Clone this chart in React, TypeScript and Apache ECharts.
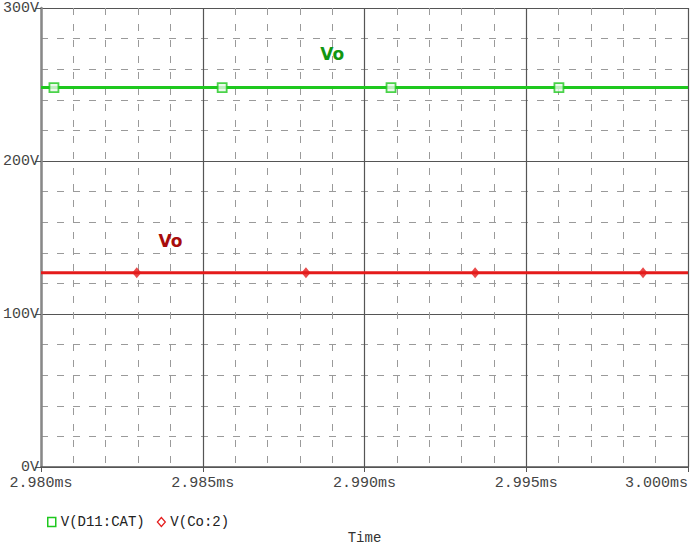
import React, { useEffect, useRef } from "react";
import * as echarts from "echarts";

// time in microseconds (2980 us = 2.980 ms)
const timeRange = [2980, 3000];
const voltRange = [0, 300];
const greenLevel = 248; // V(D11:CAT)
const redLevel = 127; // V(Co:2)
const greenMarkerTimes = [2980.4, 2985.6, 2990.82, 2996.01];
const redMarkerTimes = [2982.96, 2988.19, 2993.42, 2998.61];
const greenLabel = { text: "Vo", t: 2989.0, v: 270 };
const redLabel = { text: "Vo", t: 2984.0, v: 148 };
const seriesNames = ["V(D11:CAT)", "V(Co:2)"];

const GREEN = "#1ec81e";
const RED = "#e41b1b";
const FONT = "Liberation Mono";

export default function App() {
  const ref = useRef<HTMLDivElement>(null);
  useEffect(() => {
    const chart = echarts.init(ref.current!, null, { renderer: "svg" });
    const minorLine = { show: true, lineStyle: { color: "#9a9a9a", width: 1, type: [7, 9] } };
    chart.setOption({
      animation: false,
      backgroundColor: "#ffffff",
      grid: { left: 41, right: 4, top: 8, bottom: 79 },
      xAxis: {
        type: "value",
        min: timeRange[0],
        max: timeRange[1],
        interval: 5,
        name: "Time",
        nameLocation: "middle",
        nameGap: 64,
        nameTextStyle: { fontFamily: FONT, fontSize: 14, color: "#333" },
        axisLine: { show: true, lineStyle: { color: "#555", width: 1.5 } },
        axisTick: { show: true, length: 5, inside: false, lineStyle: { color: "#555" } },
        axisLabel: {
          formatter: (v: number) => (v / 1000).toFixed(3) + "ms",
          fontFamily: FONT,
          fontSize: 15,
          color: "#444",
          margin: 9,
          showMinLabel: true,
          showMaxLabel: true,
          alignMinLabel: "center",
          alignMaxLabel: "right",
        },
        splitLine: { show: true, lineStyle: { color: "#555", width: 1.2 } },
        minorTick: { show: true, splitNumber: 5, length: 0 },
        minorSplitLine: minorLine,
      },
      yAxis: {
        type: "value",
        min: voltRange[0],
        max: voltRange[1],
        interval: 100,
        axisLine: { show: true, lineStyle: { color: "#888", width: 2.5 } },
        axisTick: { show: true, length: 6, lineStyle: { color: "#555" } },
        axisLabel: {
          formatter: (v: number) => v + "V",
          fontFamily: FONT,
          fontSize: 15,
          color: "#444",
          margin: 2,
        },
        splitLine: { show: true, lineStyle: { color: "#555", width: 1.2 } },
        minorTick: { show: true, splitNumber: 5, length: 0 },
        minorSplitLine: minorLine,
      },
      legend: {
        left: 42,
        top: 510,
        itemWidth: 8,
        itemHeight: 9,
        itemGap: 12,
        textStyle: { fontFamily: FONT, fontSize: 14, color: "#222" },
        data: [
          { name: seriesNames[0], icon: "rect", itemStyle: { color: "#fff", borderColor: GREEN, borderWidth: 1.5 } },
          { name: seriesNames[1], icon: "diamond", itemStyle: { color: "#fff", borderColor: RED, borderWidth: 1.2 } },
        ],
      },
      series: [
        {
          name: seriesNames[0],
          type: "line",
          showSymbol: false,
          data: [[timeRange[0], greenLevel], [timeRange[1], greenLevel]],
          lineStyle: { color: GREEN, width: 3 },
          itemStyle: { color: GREEN },
          markPoint: {
            symbol: "circle",
            symbolSize: 0,
            label: {
              show: true,
              formatter: greenLabel.text,
              fontFamily: "DejaVu Sans",
              fontWeight: "bold",
              fontSize: 17,
              color: "#129612",
            },
            data: [{ coord: [greenLabel.t, greenLabel.v] }],
          },
          z: 3,
        },
        {
          name: seriesNames[0],
          type: "scatter",
          symbol: "rect",
          symbolSize: 9,
          data: greenMarkerTimes.map((t) => [t, greenLevel]),
          itemStyle: { color: "#e8f8e8", borderColor: GREEN, borderWidth: 1.8 },
          z: 4,
        },
        {
          name: seriesNames[1],
          type: "line",
          showSymbol: false,
          data: [[timeRange[0], redLevel], [timeRange[1], redLevel]],
          lineStyle: { color: RED, width: 3 },
          itemStyle: { color: RED },
          markPoint: {
            symbol: "circle",
            symbolSize: 0,
            label: {
              show: true,
              formatter: redLabel.text,
              fontFamily: "DejaVu Sans",
              fontWeight: "bold",
              fontSize: 17,
              color: "#a80c0c",
            },
            data: [{ coord: [redLabel.t, redLabel.v] }],
          },
          z: 3,
        },
        {
          name: seriesNames[1],
          type: "scatter",
          symbol: "diamond",
          symbolSize: [9, 11],
          data: redMarkerTimes.map((t) => [t, redLevel]),
          itemStyle: { color: RED },
          z: 4,
        },
      ],
    });
    return () => chart.dispose();
  }, []);
  return (
    <div
      ref={ref}
      style={{ position: "fixed", left: 0, top: 0, width: 692, height: 550 }}
    />
  );
}
